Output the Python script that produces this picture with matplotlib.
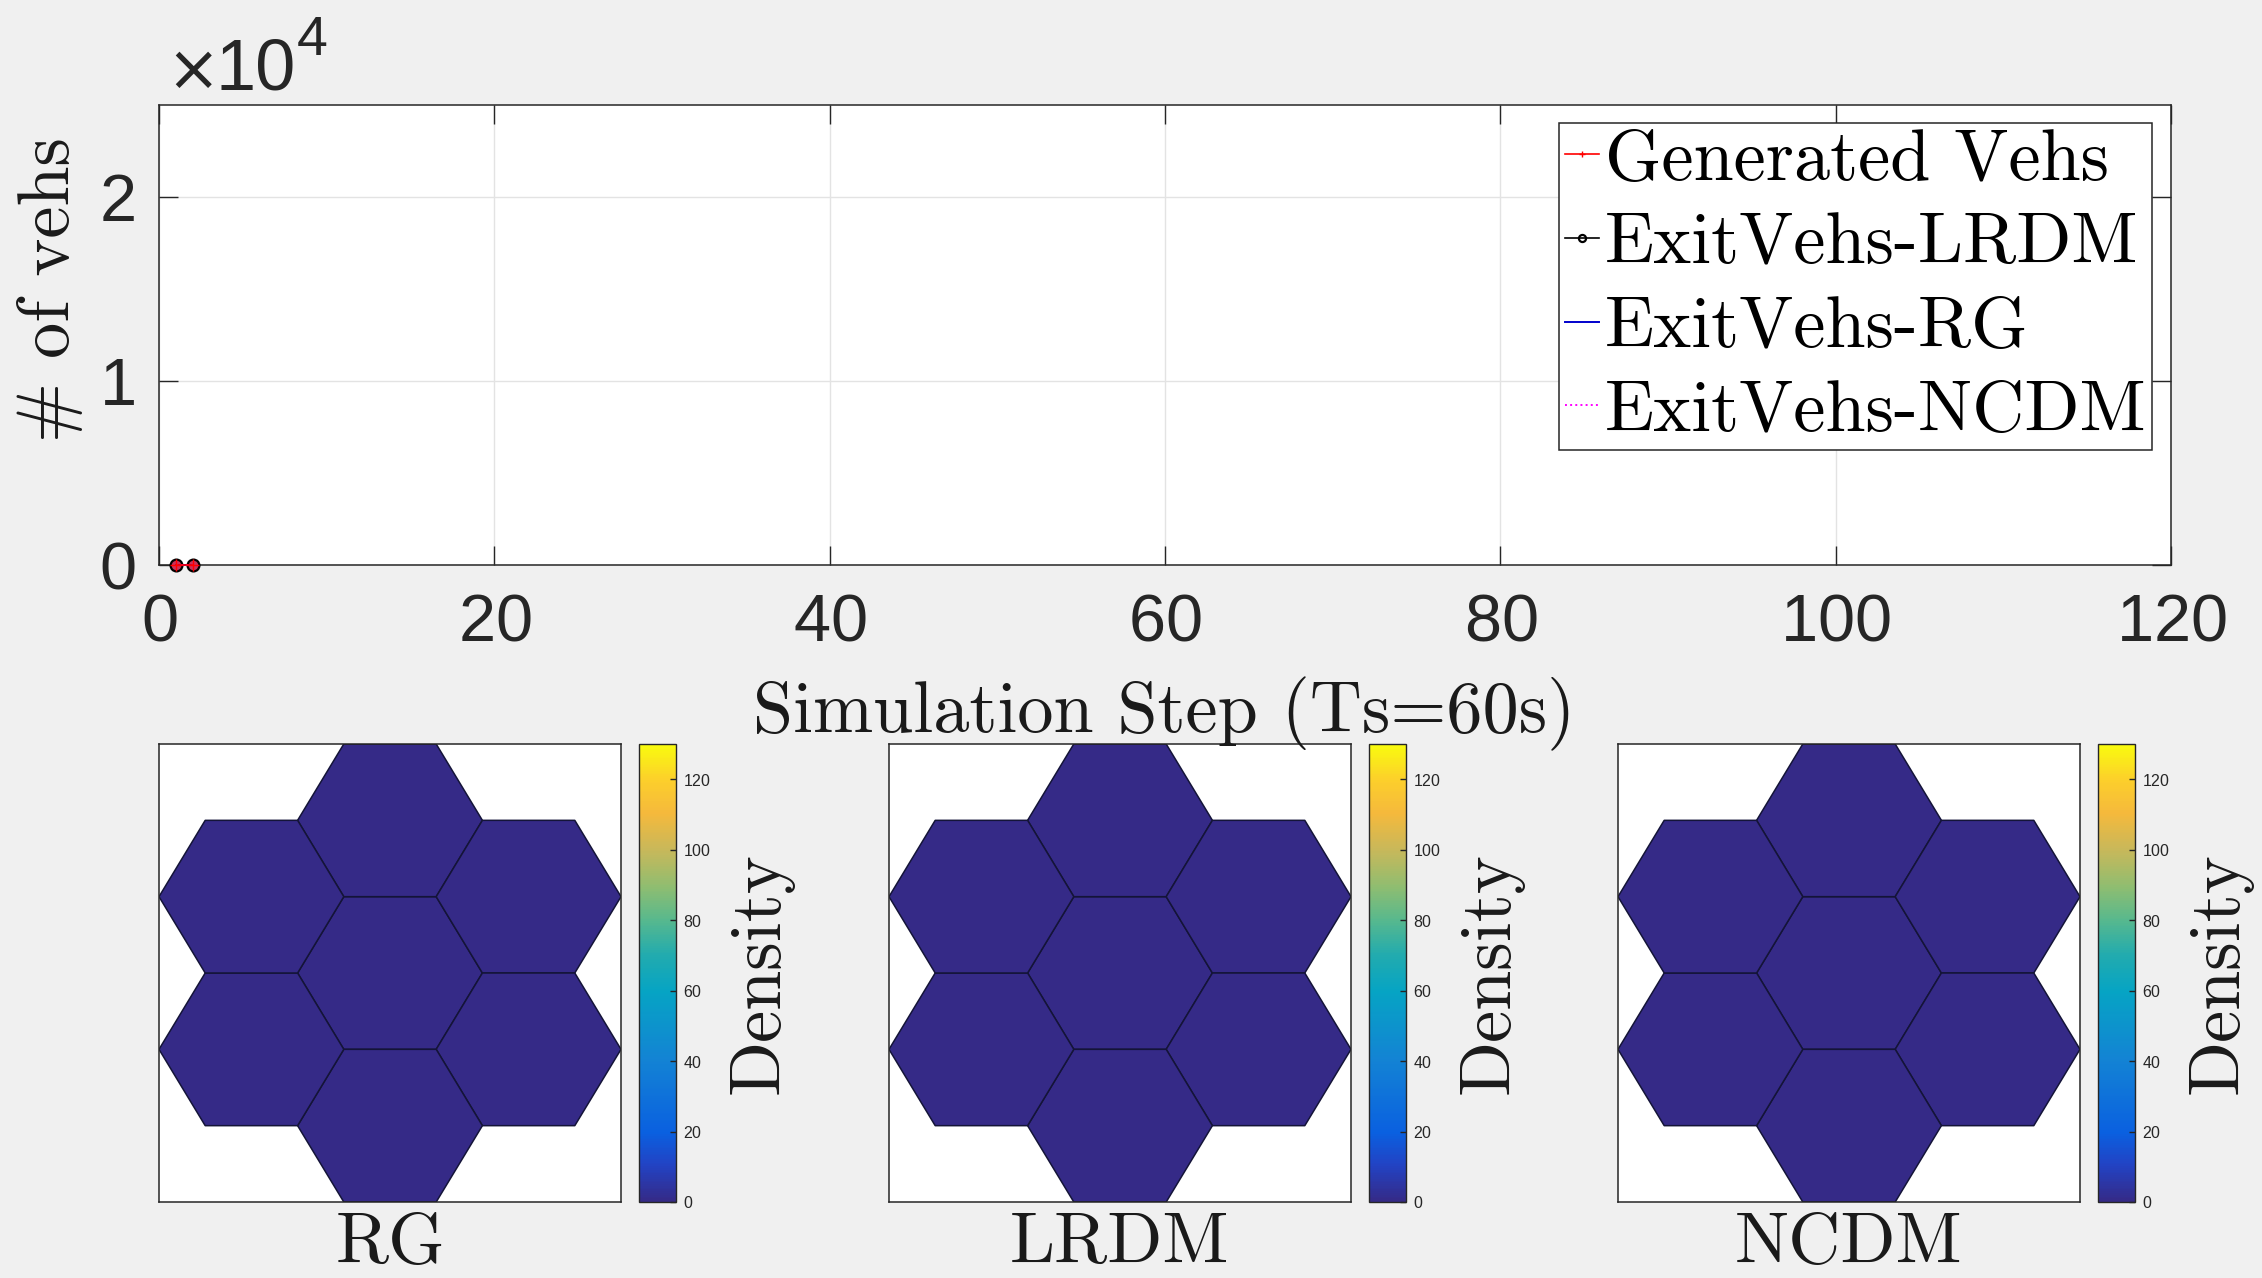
import numpy as np
import matplotlib
matplotlib.use("Agg")
import matplotlib.pyplot as plt
from matplotlib.colors import LinearSegmentedColormap
from matplotlib.patches import RegularPolygon
from matplotlib.collections import PatchCollection
from matplotlib.ticker import FuncFormatter

# ---------------- data ----------------
steps = [1, 2]
generated_vehs = [0, 0]
exit_lrdm = [0, 0]
exit_rg = [0, 0]
exit_ncdm = [0, 0]

x_ticks = [0, 20, 40, 60, 80, 100, 120]
y_ticks = [0, 10000, 20000]
y_scale = 10000

panel_names = ["RG", "LRDM", "NCDM"]
# vehicle density of each hexagonal region: centre cell, then the ring of six
cell_density = {
    "RG":   [0, 0, 0, 0, 0, 0, 0],
    "LRDM": [0, 0, 0, 0, 0, 0, 0],
    "NCDM": [0, 0, 0, 0, 0, 0, 0],
}
density_max = 130
density_ticks = [0, 20, 40, 60, 80, 100, 120]

# ---------------- style ----------------
W, H, DPI = 2262, 1278, 100
SERIF = ["cmr10", "DejaVu Serif"]
SANS = ["Liberation Sans", "DejaVu Sans"]
plt.rcParams["font.family"] = SANS
plt.rcParams["axes.formatter.use_mathtext"] = True
AX_COL = "#262626"
TXT_COL = "#1a1a1a"
BG = "#f0f0f0"
LABEL_SIZE = 52

parula = LinearSegmentedColormap.from_list("parula", [
    (0.00, "#352a87"), (0.08, "#2243c4"), (0.15, "#0a60e0"),
    (0.31, "#1383d4"), (0.46, "#06a4c4"), (0.54, "#22abae"),
    (0.62, "#5ab98c"), (0.69, "#90bd70"), (0.77, "#c8b85a"),
    (0.85, "#f5b93c"), (0.92, "#fcce2c"), (1.00, "#f9fb0e"),
])


def fx(px):
    return px / W


def fy(py):
    return 1 - py / H


def box(left, top, right, bottom):
    return [fx(left), fy(bottom), (right - left) / W, (bottom - top) / H]


fig = plt.figure(figsize=(W / DPI, H / DPI), dpi=DPI)
fig.patch.set_facecolor(BG)

# ---------------- vehicle count axes ----------------
ax = fig.add_axes(box(159, 105, 2171, 565))
ax.set_facecolor("white")
ax.plot(steps, generated_vehs, color="red", marker="+", markersize=8,
        linewidth=1.2, clip_on=False, zorder=4, label="Generated Vehs")
ax.plot(steps, exit_lrdm, color="black", marker="o", markersize=8.5,
        markerfacecolor="#c8305a", markeredgewidth=1.6, linewidth=1.2,
        clip_on=False, zorder=3, label="ExitVehs-LRDM")
ax.plot(steps, exit_rg, color="#0000cc", linewidth=1.4, clip_on=False,
        zorder=3, label="ExitVehs-RG")
ax.plot(steps, exit_ncdm, color="#ff00ff", linestyle=":", linewidth=1.4,
        clip_on=False, zorder=3, label="ExitVehs-NCDM")

ax.set_xlim(0, 120)
ax.set_ylim(0, 25000)
ax.set_xticks(x_ticks)
ax.set_yticks(y_ticks)
ax.yaxis.set_major_formatter(FuncFormatter(lambda v, p: f"{v / y_scale:g}"))
ax.grid(True, color="#e3e3e3", linewidth=1.0)
ax.set_axisbelow(True)
ax.tick_params(direction="in", length=14, width=1.0, color=AX_COL,
               labelsize=48, labelcolor=AX_COL, top=True, right=True)
ax.tick_params(axis="x", pad=20)
ax.tick_params(axis="y", pad=16)
for s in ax.spines.values():
    s.set_color(AX_COL)
    s.set_linewidth(1.1)

# axis multiplier
fig.text(fx(166), fy(90), "\u00d7", fontsize=46, color=AX_COL,
         family=["DejaVu Sans"], va="baseline", ha="left")
fig.text(fx(216), fy(90), "10", fontsize=52, color=AX_COL,
         family=SANS, va="baseline", ha="left")
fig.text(fx(297), fy(55), "4", fontsize=40, color=AX_COL,
         family=SANS, va="baseline", ha="left")

fig.text(fx(50), fy(290), "# of vehs", rotation=90, fontsize=LABEL_SIZE,
         family=SERIF, ha="center", va="center", color=TXT_COL)
fig.text(fx(1164), fy(732), "Simulation Step (Ts=60s)", fontsize=LABEL_SIZE,
         family=SERIF, ha="center", va="baseline", color=TXT_COL)

leg = ax.legend(loc="upper right", bbox_to_anchor=(fx(2152), fy(123)),
                bbox_transform=fig.transFigure, borderaxespad=0,
                prop={"family": SERIF, "size": LABEL_SIZE},
                handlelength=0.47, handletextpad=0.08, borderpad=0.08,
                labelspacing=0.26, fancybox=False, framealpha=1,
                markerscale=0.6)
leg.get_frame().set_edgecolor(AX_COL)
leg.get_frame().set_linewidth(1.1)
for h in leg.legend_handles:
    if h.get_label() == "ExitVehs-LRDM":
        h.set_markerfacecolor("none")

# ---------------- hexagonal density maps ----------------
R = 1.0
ring_dist = np.sqrt(3) * R
centres = [(0.0, 0.0)] + [
    (ring_dist * np.cos(np.radians(30 + 60 * k)),
     ring_dist * np.sin(np.radians(30 + 60 * k)))
    for k in (1, 0, 5, 4, 3, 2)
]

panel_left = [159, 889, 1618]
for name, L in zip(panel_names, panel_left):
    hax = fig.add_axes(box(L, 744, L + 462, 1202))
    hax.set_facecolor("white")
    hexes = [RegularPolygon(c, numVertices=6, radius=R,
                            orientation=np.pi / 6) for c in centres]
    coll = PatchCollection(hexes, cmap=parula, edgecolor="#141438",
                           linewidth=1.1)
    coll.set_array(np.asarray(cell_density[name], dtype=float))
    coll.set_clim(0, density_max)
    hax.add_collection(coll)
    hax.set_xlim(-2.5 * R, 2.5 * R)
    hax.set_ylim(-1.5 * np.sqrt(3) * R, 1.5 * np.sqrt(3) * R)
    hax.set_xticks([])
    hax.set_yticks([])
    for s in hax.spines.values():
        s.set_color(AX_COL)
        s.set_linewidth(1.1)

    cax = fig.add_axes(box(L + 480, 744, L + 517, 1202))
    cb = fig.colorbar(coll, cax=cax, ticks=density_ticks)
    cax.tick_params(direction="in", length=4.5, width=1.0, color=AX_COL,
                    labelsize=11.5, labelcolor=AX_COL, pad=5)
    cb.outline.set_edgecolor(AX_COL)
    cb.outline.set_linewidth(1.0)

    fig.text(fx(L + 602), fy(973), "Density", rotation=90,
             fontsize=LABEL_SIZE, family=SERIF, ha="center", va="center",
             color=TXT_COL)
    fig.text(fx(L + 231), fy(1277), name, fontsize=LABEL_SIZE,
             family=SERIF, ha="center", va="bottom", color=TXT_COL)

fig.savefig("out.png", dpi=DPI, facecolor=fig.get_facecolor())
